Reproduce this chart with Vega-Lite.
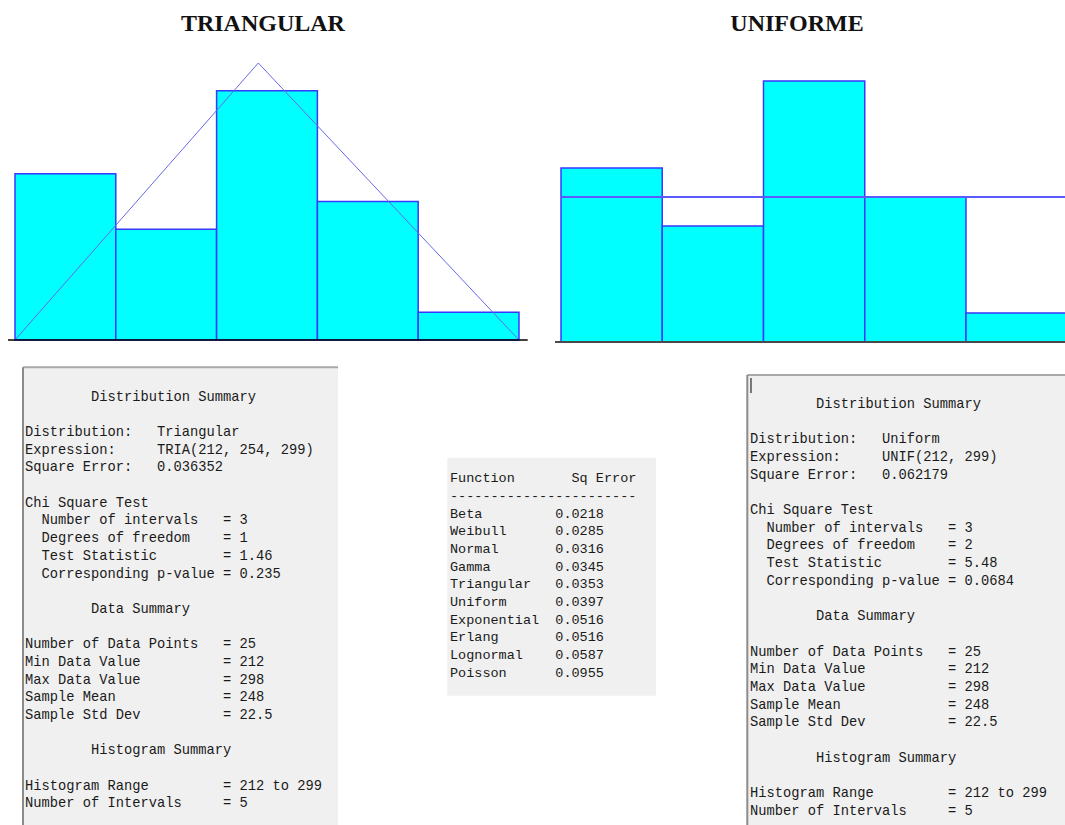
{
  "$schema": "https://vega.github.io/schema/vega-lite/v6.json",
  "padding": 0,
  "background": "white",
  "config": {"view": {"stroke": null}},
  "spacing": 17,
  "datasets": {
    "hist": [
      {"lo": 212, "hi": 229.4, "n": 6},
      {"lo": 229.4, "hi": 246.8, "n": 4},
      {"lo": 246.8, "hi": 264.2, "n": 9},
      {"lo": 264.2, "hi": 281.6, "n": 5},
      {"lo": 281.6, "hi": 299, "n": 1}
    ],
    "triDensity": [{"x": 212, "y": 0}, {"x": 254, "y": 10}, {"x": 299, "y": 0}],
    "uniDensity": [{"x": 212, "y": 5}, {"x": 299, "y": 5}],
    "leftText": [
      {"line": 0, "text": "\u200b\u00a0\u00a0\u00a0\u00a0\u00a0\u00a0\u00a0\u00a0Distribution Summary"},
      {"line": 2, "text": "Distribution:\u00a0\u00a0\u00a0Triangular"},
      {"line": 3, "text": "Expression:\u00a0\u00a0\u00a0\u00a0\u00a0TRIA(212, 254, 299)"},
      {"line": 4, "text": "Square Error:\u00a0\u00a0\u00a00.036352"},
      {"line": 6, "text": "Chi Square Test"},
      {"line": 7, "text": "\u200b\u00a0\u00a0Number of intervals\u00a0\u00a0\u00a0= 3"},
      {"line": 8, "text": "\u200b\u00a0\u00a0Degrees of freedom\u00a0\u00a0\u00a0\u00a0= 1"},
      {"line": 9, "text": "\u200b\u00a0\u00a0Test Statistic\u00a0\u00a0\u00a0\u00a0\u00a0\u00a0\u00a0\u00a0= 1.46"},
      {"line": 10, "text": "\u200b\u00a0\u00a0Corresponding p-value = 0.235"},
      {"line": 12, "text": "\u200b\u00a0\u00a0\u00a0\u00a0\u00a0\u00a0\u00a0\u00a0Data Summary"},
      {"line": 14, "text": "Number of Data Points\u00a0\u00a0\u00a0= 25"},
      {"line": 15, "text": "Min Data Value\u00a0\u00a0\u00a0\u00a0\u00a0\u00a0\u00a0\u00a0\u00a0\u00a0= 212"},
      {"line": 16, "text": "Max Data Value\u00a0\u00a0\u00a0\u00a0\u00a0\u00a0\u00a0\u00a0\u00a0\u00a0= 298"},
      {"line": 17, "text": "Sample Mean\u00a0\u00a0\u00a0\u00a0\u00a0\u00a0\u00a0\u00a0\u00a0\u00a0\u00a0\u00a0\u00a0= 248"},
      {"line": 18, "text": "Sample Std Dev\u00a0\u00a0\u00a0\u00a0\u00a0\u00a0\u00a0\u00a0\u00a0\u00a0= 22.5"},
      {"line": 20, "text": "\u200b\u00a0\u00a0\u00a0\u00a0\u00a0\u00a0\u00a0\u00a0Histogram Summary"},
      {"line": 22, "text": "Histogram Range\u00a0\u00a0\u00a0\u00a0\u00a0\u00a0\u00a0\u00a0\u00a0= 212 to 299"},
      {"line": 23, "text": "Number of Intervals\u00a0\u00a0\u00a0\u00a0\u00a0= 5"}
    ],
    "midText": [
      {"line": 0, "text": "Function\u00a0\u00a0\u00a0\u00a0\u00a0\u00a0\u00a0Sq Error"},
      {"line": 1, "text": "-----------------------"},
      {"line": 2, "text": "Beta\u00a0\u00a0\u00a0\u00a0\u00a0\u00a0\u00a0\u00a0\u00a00.0218"},
      {"line": 3, "text": "Weibull\u00a0\u00a0\u00a0\u00a0\u00a0\u00a00.0285"},
      {"line": 4, "text": "Normal\u00a0\u00a0\u00a0\u00a0\u00a0\u00a0\u00a00.0316"},
      {"line": 5, "text": "Gamma\u00a0\u00a0\u00a0\u00a0\u00a0\u00a0\u00a0\u00a00.0345"},
      {"line": 6, "text": "Triangular\u00a0\u00a0\u00a00.0353"},
      {"line": 7, "text": "Uniform\u00a0\u00a0\u00a0\u00a0\u00a0\u00a00.0397"},
      {"line": 8, "text": "Exponential\u00a0\u00a00.0516"},
      {"line": 9, "text": "Erlang\u00a0\u00a0\u00a0\u00a0\u00a0\u00a0\u00a00.0516"},
      {"line": 10, "text": "Lognormal\u00a0\u00a0\u00a0\u00a00.0587"},
      {"line": 11, "text": "Poisson\u00a0\u00a0\u00a0\u00a0\u00a0\u00a00.0955"}
    ],
    "rightText": [
      {"line": 0, "text": "\u200b\u00a0\u00a0\u00a0\u00a0\u00a0\u00a0\u00a0\u00a0Distribution Summary"},
      {"line": 2, "text": "Distribution:\u00a0\u00a0\u00a0Uniform"},
      {"line": 3, "text": "Expression:\u00a0\u00a0\u00a0\u00a0\u00a0UNIF(212, 299)"},
      {"line": 4, "text": "Square Error:\u00a0\u00a0\u00a00.062179"},
      {"line": 6, "text": "Chi Square Test"},
      {"line": 7, "text": "\u200b\u00a0\u00a0Number of intervals\u00a0\u00a0\u00a0= 3"},
      {"line": 8, "text": "\u200b\u00a0\u00a0Degrees of freedom\u00a0\u00a0\u00a0\u00a0= 2"},
      {"line": 9, "text": "\u200b\u00a0\u00a0Test Statistic\u00a0\u00a0\u00a0\u00a0\u00a0\u00a0\u00a0\u00a0= 5.48"},
      {"line": 10, "text": "\u200b\u00a0\u00a0Corresponding p-value = 0.0684"},
      {"line": 12, "text": "\u200b\u00a0\u00a0\u00a0\u00a0\u00a0\u00a0\u00a0\u00a0Data Summary"},
      {"line": 14, "text": "Number of Data Points\u00a0\u00a0\u00a0= 25"},
      {"line": 15, "text": "Min Data Value\u00a0\u00a0\u00a0\u00a0\u00a0\u00a0\u00a0\u00a0\u00a0\u00a0= 212"},
      {"line": 16, "text": "Max Data Value\u00a0\u00a0\u00a0\u00a0\u00a0\u00a0\u00a0\u00a0\u00a0\u00a0= 298"},
      {"line": 17, "text": "Sample Mean\u00a0\u00a0\u00a0\u00a0\u00a0\u00a0\u00a0\u00a0\u00a0\u00a0\u00a0\u00a0\u00a0= 248"},
      {"line": 18, "text": "Sample Std Dev\u00a0\u00a0\u00a0\u00a0\u00a0\u00a0\u00a0\u00a0\u00a0\u00a0= 22.5"},
      {"line": 20, "text": "\u200b\u00a0\u00a0\u00a0\u00a0\u00a0\u00a0\u00a0\u00a0Histogram Summary"},
      {"line": 22, "text": "Histogram Range\u00a0\u00a0\u00a0\u00a0\u00a0\u00a0\u00a0\u00a0\u00a0= 212 to 299"},
      {"line": 23, "text": "Number of Intervals\u00a0\u00a0\u00a0\u00a0\u00a0= 5"}
    ]
  },
  "vconcat": [
    {
      "spacing": 0,
      "bounds": "flush",
      "hconcat": [
        {
          "width": 540,
          "height": 342,
          "layer": [
            {
              "data": {"name": "hist"},
              "mark": {"type": "rect", "fill": "#00ffff", "stroke": "#3838ff", "strokeWidth": 1.5},
              "encoding": {
                "x": {"field": "lo", "type": "quantitative", "scale": {"domain": [209.411, 302.627], "nice": false, "zero": false}, "axis": null},
                "x2": {"field": "hi"},
                "y": {"field": "n", "type": "quantitative", "scale": {"domain": [-0.072, 12.274], "nice": false, "zero": false}, "axis": null},
                "y2": {"datum": 0}
              }
            },
            {
              "data": {"name": "triDensity"},
              "mark": {"type": "line", "stroke": "#6868e8", "strokeWidth": 1},
              "encoding": {
                "x": {"field": "x", "type": "quantitative"},
                "y": {"field": "y", "type": "quantitative"}
              }
            },
            {
              "data": {"values": [{}]},
              "mark": {"type": "rule", "stroke": "#000000", "strokeWidth": 1.5},
              "encoding": {
                "x": {"datum": 210.8, "type": "quantitative"},
                "x2": {"datum": 300.5},
                "y": {"datum": 0, "type": "quantitative"}
              }
            },
            {
              "data": {"values": [{}]},
              "mark": {"type": "text", "text": "TRIANGULAR", "font": "Liberation Serif", "fontWeight": "bold", "fontSize": 24, "align": "center", "baseline": "alphabetic", "color": "#111111"},
              "encoding": {
                "x": {"datum": 254.8, "type": "quantitative"},
                "y": {"datum": 11.166, "type": "quantitative"}
              }
            }
          ]
        },
        {
          "width": 525,
          "height": 342,
          "layer": [
            {
              "data": {"name": "hist"},
              "mark": {"type": "rect", "fill": "#00ffff", "stroke": "#3838ff", "strokeWidth": 1.5, "clip": true},
              "encoding": {
                "x": {"field": "lo", "type": "quantitative", "scale": {"domain": [208.391, 298.612], "nice": false, "zero": false}, "axis": null},
                "x2": {"field": "hi"},
                "y": {"field": "n", "type": "quantitative", "scale": {"domain": [0, 11.79], "nice": false, "zero": false}, "axis": null},
                "y2": {"datum": 0}
              }
            },
            {
              "data": {"name": "uniDensity"},
              "mark": {"type": "line", "stroke": "#5a5aff", "strokeWidth": 2, "clip": true},
              "encoding": {
                "x": {"field": "x", "type": "quantitative"},
                "y": {"field": "y", "type": "quantitative"}
              }
            },
            {
              "data": {"values": [{}]},
              "mark": {"type": "rule", "stroke": "#4a4a4a", "strokeWidth": 2},
              "encoding": {
                "x": {"datum": 210.97, "type": "quantitative"},
                "x2": {"datum": 298.612},
                "y": {"datum": 0, "type": "quantitative"}
              }
            },
            {
              "data": {"values": [{}]},
              "mark": {"type": "text", "text": "UNIFORME", "font": "Liberation Serif", "fontWeight": "bold", "fontSize": 24, "align": "center", "baseline": "alphabetic", "color": "#111111"},
              "encoding": {
                "x": {"datum": 252.56, "type": "quantitative"},
                "y": {"datum": 10.731, "type": "quantitative"}
              }
            }
          ]
        }
      ]
    },
    {
      "spacing": 0,
      "bounds": "flush",
      "hconcat": [
        {
          "width": 370,
          "height": 465,
          "layer": [
            {
              "data": {"values": [{}]},
              "mark": {"type": "rect", "fill": "#f0f0f0"},
              "encoding": {
                "x": {"datum": -0.242, "type": "quantitative", "scale": {"domain": [-3.0303, 41.818], "nice": false, "zero": false}, "axis": null},
                "x2": {"datum": 37.94},
                "y": {"datum": -1.663, "type": "quantitative", "scale": {"domain": [-2.0758, 24.225], "reverse": true, "nice": false, "zero": false}, "axis": null},
                "y2": {"datum": 24.225}
              }
            },
            {
              "data": {"values": [{}]},
              "mark": {"type": "rule", "stroke": "#a8a8a8", "strokeWidth": 2},
              "encoding": {
                "x": {"datum": -0.242, "type": "quantitative"},
                "x2": {"datum": 37.94},
                "y": {"datum": -1.663, "type": "quantitative"}
              }
            },
            {
              "data": {"values": [{}]},
              "mark": {"type": "rule", "stroke": "#8c8c8c", "strokeWidth": 2},
              "encoding": {
                "x": {"datum": -0.242, "type": "quantitative"},
                "y": {"datum": -1.663, "type": "quantitative"},
                "y2": {"datum": 24.225}
              }
            },
            {
              "data": {"name": "leftText"},
              "mark": {"type": "text", "font": "Liberation Mono", "fontSize": 13.75, "align": "left", "baseline": "middle", "color": "#1a1a1a"},
              "encoding": {
                "x": {"datum": 0, "type": "quantitative"},
                "y": {"field": "line", "type": "quantitative"},
                "text": {"field": "text"}
              }
            }
          ]
        },
        {
          "width": 370,
          "height": 465,
          "layer": [
            {
              "data": {"values": [{}]},
              "mark": {"type": "rect", "fill": "#f0f0f0"},
              "encoding": {
                "x": {"datum": -0.327, "type": "quantitative", "scale": {"domain": [-9.697, 35.152], "nice": false, "zero": false}, "axis": null},
                "x2": {"datum": 24.97},
                "y": {"datum": -1.165, "type": "quantitative", "scale": {"domain": [-6.691, 19.61], "reverse": true, "nice": false, "zero": false}, "axis": null},
                "y2": {"datum": 12.296}
              }
            },
            {
              "data": {"name": "midText"},
              "mark": {"type": "text", "font": "Liberation Mono", "fontSize": 13.5, "align": "left", "baseline": "middle", "color": "#1a1a1a"},
              "encoding": {
                "x": {"datum": 0, "type": "quantitative"},
                "y": {"field": "line", "type": "quantitative"},
                "text": {"field": "text"}
              }
            }
          ]
        },
        {
          "width": 325,
          "height": 465,
          "layer": [
            {
              "data": {"values": [{}]},
              "mark": {"type": "rect", "fill": "#f0f0f0"},
              "encoding": {
                "x": {"datum": -0.327, "type": "quantitative", "scale": {"domain": [-1.2121, 38.182], "nice": false, "zero": false}, "axis": null},
                "x2": {"datum": 38.182},
                "y": {"datum": -1.64, "type": "quantitative", "scale": {"domain": [-2.4887, 23.812], "reverse": true, "nice": false, "zero": false}, "axis": null},
                "y2": {"datum": 23.812}
              }
            },
            {
              "data": {"values": [{}]},
              "mark": {"type": "rule", "stroke": "#a8a8a8", "strokeWidth": 2},
              "encoding": {
                "x": {"datum": -0.327, "type": "quantitative"},
                "x2": {"datum": 38.182},
                "y": {"datum": -1.64, "type": "quantitative"}
              }
            },
            {
              "data": {"values": [{}]},
              "mark": {"type": "rule", "stroke": "#8c8c8c", "strokeWidth": 2},
              "encoding": {
                "x": {"datum": -0.327, "type": "quantitative"},
                "y": {"datum": -1.64, "type": "quantitative"},
                "y2": {"datum": 23.812}
              }
            },
            {
              "data": {"values": [{}]},
              "mark": {"type": "rule", "stroke": "#000000", "strokeWidth": 1},
              "encoding": {
                "x": {"datum": 0.121, "type": "quantitative"},
                "y": {"datum": -1.47, "type": "quantitative"},
                "y2": {"datum": -0.62}
              }
            },
            {
              "data": {"name": "rightText"},
              "mark": {"type": "text", "font": "Liberation Mono", "fontSize": 13.75, "align": "left", "baseline": "middle", "color": "#1a1a1a"},
              "encoding": {
                "x": {"datum": 0, "type": "quantitative"},
                "y": {"field": "line", "type": "quantitative"},
                "text": {"field": "text"}
              }
            }
          ]
        }
      ]
    }
  ]
}
